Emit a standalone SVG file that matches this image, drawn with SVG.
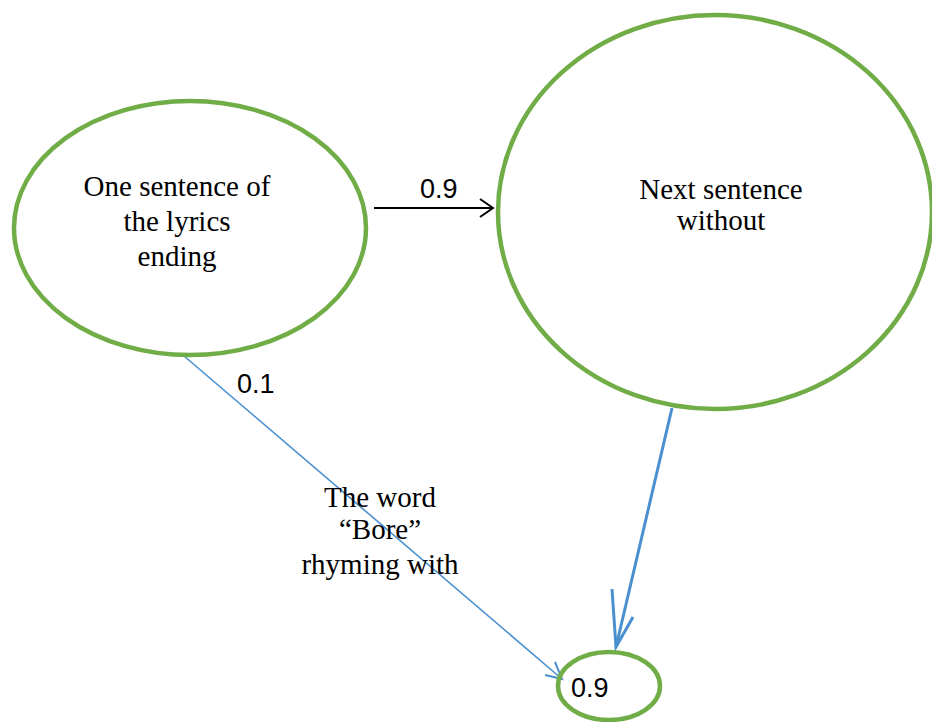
<svg xmlns="http://www.w3.org/2000/svg" width="932" height="722" viewBox="0 0 932 722">
<style>
.node{fill:none;stroke:#70AD47;stroke-width:4.5}
.serif{font-family:"Liberation Serif","Times New Roman",serif;font-size:29px;fill:#000;text-anchor:middle}
.sans{font-family:"Liberation Sans",Arial,sans-serif;font-size:27px;fill:#000}
.blue{stroke:#4A90D0;fill:none}
</style>
<rect width="932" height="722" fill="#fff"/>
<g id="connectors">
<line x1="374" y1="208" x2="493" y2="208" stroke="#000" stroke-width="2"/>
<polyline points="480,199 493,208 480,217" fill="none" stroke="#000" stroke-width="2"/>
<line class="blue" x1="184" y1="356" x2="562" y2="679" stroke-width="1.6"/>
<polyline class="blue" points="555,662 562,679 545,675" stroke-width="2"/>
<line class="blue" x1="672" y1="408" x2="616" y2="647" stroke-width="3"/>
<polyline class="blue" points="612,589 616,647 633,617" stroke-width="3"/>
</g>
<g id="node-one-sentence">
<ellipse class="node" cx="190" cy="228" rx="176" ry="127"/>
<text class="serif" x="177" y="196">One sentence of</text>
<text class="serif" x="177" y="231">the lyrics</text>
<text class="serif" x="177" y="266">ending</text>
</g>
<g id="node-next-sentence">
<ellipse class="node" cx="715" cy="212" rx="217" ry="197"/>
<text class="serif" x="721" y="199">Next sentence</text>
<text class="serif" x="721" y="230">without</text>
</g>
<g id="node-result">
<ellipse class="node" cx="609" cy="686" rx="51" ry="34"/>
<text class="sans" x="571" y="697">0.9</text>
</g>
<g id="labels">
<text class="sans" x="420" y="198">0.9</text>
<text class="sans" x="237" y="393">0.1</text>
<text class="serif" x="380" y="507">The word</text>
<text class="serif" x="380" y="539">“Bore”</text>
<text class="serif" x="380" y="574">rhyming with</text>
</g>
</svg>
